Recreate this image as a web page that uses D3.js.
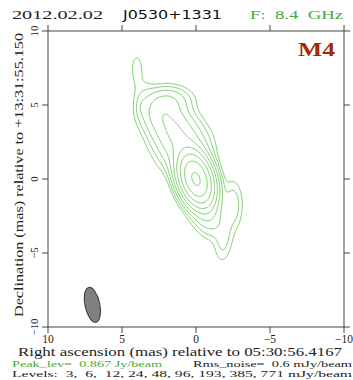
<!DOCTYPE html>
<html>
<head>
<meta charset="utf-8">
<script src="https://cdn.jsdelivr.net/npm/d3@7"></script>
<style>
  body { margin: 0; background: #fff; }
  svg { display: block; }
  text { font-family: "Liberation Serif", "DejaVu Serif", serif; }
</style>
</head>
<body>
<svg id="map" width="353" height="380"></svg>
<script>
// axis ticks (mas)
const xTicks = [10, 5, 0, -5, -10];
const yTicks = [10, 5, 0, -5, -10];

// contour levels (mJy/beam)
const levels = [3, 6, 12, 24, 48, 96, 193, 385, 771];

// source model: x, y (mas), peak (mJy/beam), sigma major/minor (mas), pa (deg, east of north)
const compX    = [0,    0.8,  1.6,  2.4,  1.8,  4.0,  3.65, 3.6,  -0.8, -2.5,  -1.85];
const compY    = [0,    2.1,  3.4,  4.5,  5.35, 7.5,  4.86, 5.9,  -2.5, -1.75, -4.25];
const compPeak = [860,  35,   38,   28,   16,   4.5,  4,    3,    18,   9,     6.5];
const compMaj  = [0.95, 1.0,  0.9,  0.75, 0.9,  0.75, 0.45, 0.8,  0.9,  1.05,  0.95];
const compMin  = [0.55, 0.95, 0.85, 0.8,  0.55, 0.3,  0.25, 0.5,  0.6,  0.42,  0.4];
const compPA   = [18,   25,   25,   10,   90,   0,    0,    0,    25,   0,     -5];

// restoring beam
const beam = { x: 7.0, y: -8.5, maj: 1.2, min: 0.5, pa: 12 };

const svg = d3.select('#map');

const xScale = d3.scaleLinear().domain([10, -10]).range([48, 344]);
const yScale = d3.scaleLinear().domain([10, -10]).range([31, 327]);

// sample the model on a grid
const step = 0.05;
const n = Math.round(20 / step) + 1;
const values = new Float64Array(n * n);
for (let j = 0; j < n; j++) {
    const y = 10 - j * step;
    for (let i = 0; i < n; i++) {
        const x = 10 - i * step;
        let v = 0;
        for (let k = 0; k < compX.length; k++) {
            const t = compPA[k] * Math.PI / 180;
            const dx = x - compX[k], dy = y - compY[k];
            const a = dx * Math.sin(t) + dy * Math.cos(t);
            const b = dx * Math.cos(t) - dy * Math.sin(t);
            v += compPeak[k] * Math.exp(-0.5 * (a * a / (compMaj[k] * compMaj[k]) + b * b / (compMin[k] * compMin[k])));
        }
        values[j * n + i] = v;
    }
}

const contours = d3.contours().size([n, n]).thresholds(levels)(values);

const toPx = d3.geoTransform({
    point: function (gx, gy) {
        this.stream.point(xScale(10 - (gx - 0.5) * step), yScale(10 - (gy - 0.5) * step));
    }
});

svg.append('g')
    .selectAll('path')
    .data(contours)
    .enter()
    .append('path')
    .attr('d', d3.geoPath(toPx))
    .attr('fill', 'none')
    .attr('stroke', '#66c455')
    .attr('stroke-width', 0.9);

// beam
svg.append('ellipse')
    .attr('cx', xScale(beam.x))
    .attr('cy', yScale(beam.y))
    .attr('rx', xScale(0) - xScale(beam.min))
    .attr('ry', yScale(-beam.maj) - yScale(0))
    .attr('transform', `rotate(${-beam.pa},${xScale(beam.x)},${yScale(beam.y)})`)
    .attr('fill', '#808080')
    .attr('stroke', '#333')
    .attr('stroke-width', 1);

// frame + outward ticks
const frameColor = '#444';
svg.append('rect')
    .attr('x', 48).attr('y', 31)
    .attr('width', 296).attr('height', 296)
    .attr('fill', 'none')
    .attr('stroke', frameColor)
    .attr('stroke-width', 1);

const tick = 6;
const ticks = svg.append('g').attr('stroke', frameColor).attr('stroke-width', 1);
xTicks.forEach(t => {
    ticks.append('line').attr('x1', xScale(t)).attr('x2', xScale(t)).attr('y1', 31).attr('y2', 31 - tick);
    ticks.append('line').attr('x1', xScale(t)).attr('x2', xScale(t)).attr('y1', 327).attr('y2', 327 + tick);
});
yTicks.forEach(t => {
    ticks.append('line').attr('y1', yScale(t)).attr('y2', yScale(t)).attr('x1', 48).attr('x2', 48 - tick);
    ticks.append('line').attr('y1', yScale(t)).attr('y2', yScale(t)).attr('x1', 344).attr('x2', 344 + tick);
});

const fmt = d => d < 0 ? '\u2212' + Math.abs(d) : String(d);

svg.append('g')
    .selectAll('text')
    .data(xTicks)
    .enter()
    .append('text')
    .attr('x', d => xScale(d))
    .attr('y', 343)
    .attr('text-anchor', 'middle')
    .attr('font-size', 11.5)
    .attr('fill', '#222')
    .text(fmt);

svg.append('g')
    .selectAll('text')
    .data(yTicks)
    .enter()
    .append('text')
    .attr('transform', d => `translate(38,${yScale(d)}) rotate(-90)`)
    .attr('text-anchor', 'middle')
    .attr('font-size', 11)
    .attr('fill', '#222')
    .text(fmt);

// titles
const label = (x, y, s, size, len, color, extra) => {
    const t = svg.append('text')
        .attr('x', x).attr('y', y)
        .attr('font-size', size)
        .attr('fill', color)
        .attr('textLength', len)
        .attr('lengthAdjust', 'spacingAndGlyphs')
        .style('white-space', 'pre')
        .text(s);
    if (extra) extra(t);
    return t;
};

label(12, 18.5, '2012.02.02', 13, 91, '#222');
label(123, 18.5, 'J0530+1331', 13, 99, '#111', t => t.style('font-family', '"DejaVu Sans", sans-serif'));
label(250, 18.5, 'F:  8.4  GHz', 13, 93, '#44aa33');
label(298, 56, 'M4', 18, 37, '#a52a0a', t => t.attr('font-weight', 'bold'));

label(18, 356, 'Right ascension (mas) relative to 05:30:56.4167', 11.5, 324, '#222');

svg.append('text')
    .attr('transform', 'translate(23,175) rotate(-90)')
    .attr('text-anchor', 'middle')
    .attr('font-size', 12)
    .attr('fill', '#222')
    .attr('textLength', 284)
    .attr('lengthAdjust', 'spacingAndGlyphs')
    .text('Declination (mas) relative to +13:31:55.150');

label(12, 367, 'Peak_lev=  0.867 Jy/beam', 9, 150, '#44aa33');
label(193, 367, 'Rms_noise=  0.6 mJy/beam', 9, 159, '#222');
label(12, 377, 'Levels:  3,  6,  12, 24, 48, 96, 193, 385, 771 mJy/beam', 9, 340, '#222');
</script>
</body>
</html>
